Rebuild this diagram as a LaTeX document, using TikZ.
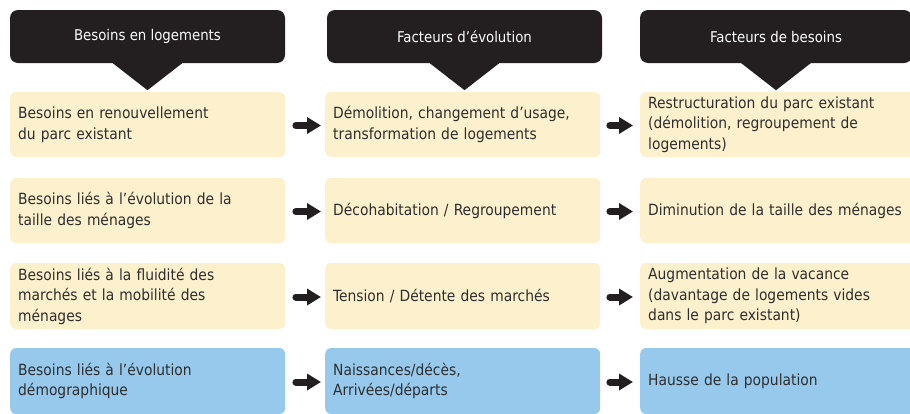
\documentclass[tikz,border=0pt]{standalone}
\usepackage{fontspec}
\setmainfont{DejaVu Sans Condensed}
\usetikzlibrary{arrows.meta}
\definecolor{hdr}{HTML}{231F20}
\definecolor{cream}{HTML}{FDF0CD}
\definecolor{sky}{HTML}{97C9EC}
\definecolor{txt}{HTML}{2E2E2E}
\begin{document}
\begin{tikzpicture}[x=1pt,y=-1pt,
  hdrbox/.style={fill=hdr, rounded corners=8pt, minimum height=53pt, inner sep=0pt,
    text=white, font=\fontsize{14.8}{18}\selectfont},
  cell/.style={fill=cream, rounded corners=6pt, minimum height=65pt, text width=259pt,
    inner xsep=8pt, inner ysep=0pt, align=left, text=txt, anchor=west,
    font=\fontsize{15.4}{20.5}\selectfont},
  bluecell/.style={cell, fill=sky, minimum height=66pt},
  pointer/.style={fill=hdr},
  bigarrow/.style={draw=hdr, line width=7pt, line cap=round, -{Triangle[length=14pt,width=16pt]}}
]
\clip (0,0) rectangle (910,413);
\fill[white] (0,0) rectangle (910,413);

% headers
\node[hdrbox, minimum width=275pt] (h1) at (147.5,36.5) {Besoins en logements};
\node[hdrbox, minimum width=275pt] (h2) at (464.5,36.5) {Facteurs d’évolution};
\node[hdrbox, minimum width=272pt] (h3) at (776,36.5) {Facteurs de besoins};
\foreach \h in {h1,h2,h3}{
  \fill[pointer] (\h.south) ++(-36,-1) -- ++(72,0) -- ++(-36,28) -- cycle;
}

% row 1
\node[cell] (a1) at (10,124.5) {Besoins en renouvellement\\du parc existant};
\node[cell] (b1) at (325,124.5) {Démolition, changement d’usage,\\transformation de logements};
\node[cell] (c1) at (640,124.5) {Restructuration du parc existant\\(démolition, regroupement de\\logements)};
% row 2
\node[cell] (a2) at (10,210.5) {Besoins liés à l’évolution de la\\taille des ménages};
\node[cell] (b2) at (325,210.5) {Décohabitation / Regroupement};
\node[cell] (c2) at (640,210.5) {Diminution de la taille des ménages};
% row 3
\node[cell, minimum height=66pt] (a3) at (10,296) {Besoins liés à la fluidité des\\marchés et la mobilité des\\ménages};
\node[cell, minimum height=66pt] (b3) at (325,296) {Tension / Détente des marchés};
\node[cell, minimum height=66pt] (c3) at (640,296) {Augmentation de la vacance\\(davantage de logements vides\\dans le parc existant)};
% row 4
\node[bluecell] (a4) at (10,381) {Besoins liés à l’évolution\\démographique};
\node[bluecell] (b4) at (325,381) {Naissances/décès,\\Arrivées/départs};
\node[bluecell] (c4) at (640,381) {Hausse de la population};

% arrows
\foreach \r in {1,2,3,4}{
  \draw[bigarrow] ([xshift=10.5pt,yshift=-1pt]a\r.east) -- ([xshift=-4pt,yshift=-1pt]b\r.west);
  \draw[bigarrow] ([xshift=9.5pt,yshift=-1pt]b\r.east) -- ([xshift=-7pt,yshift=-1pt]c\r.west);
}
\end{tikzpicture}
\end{document}
